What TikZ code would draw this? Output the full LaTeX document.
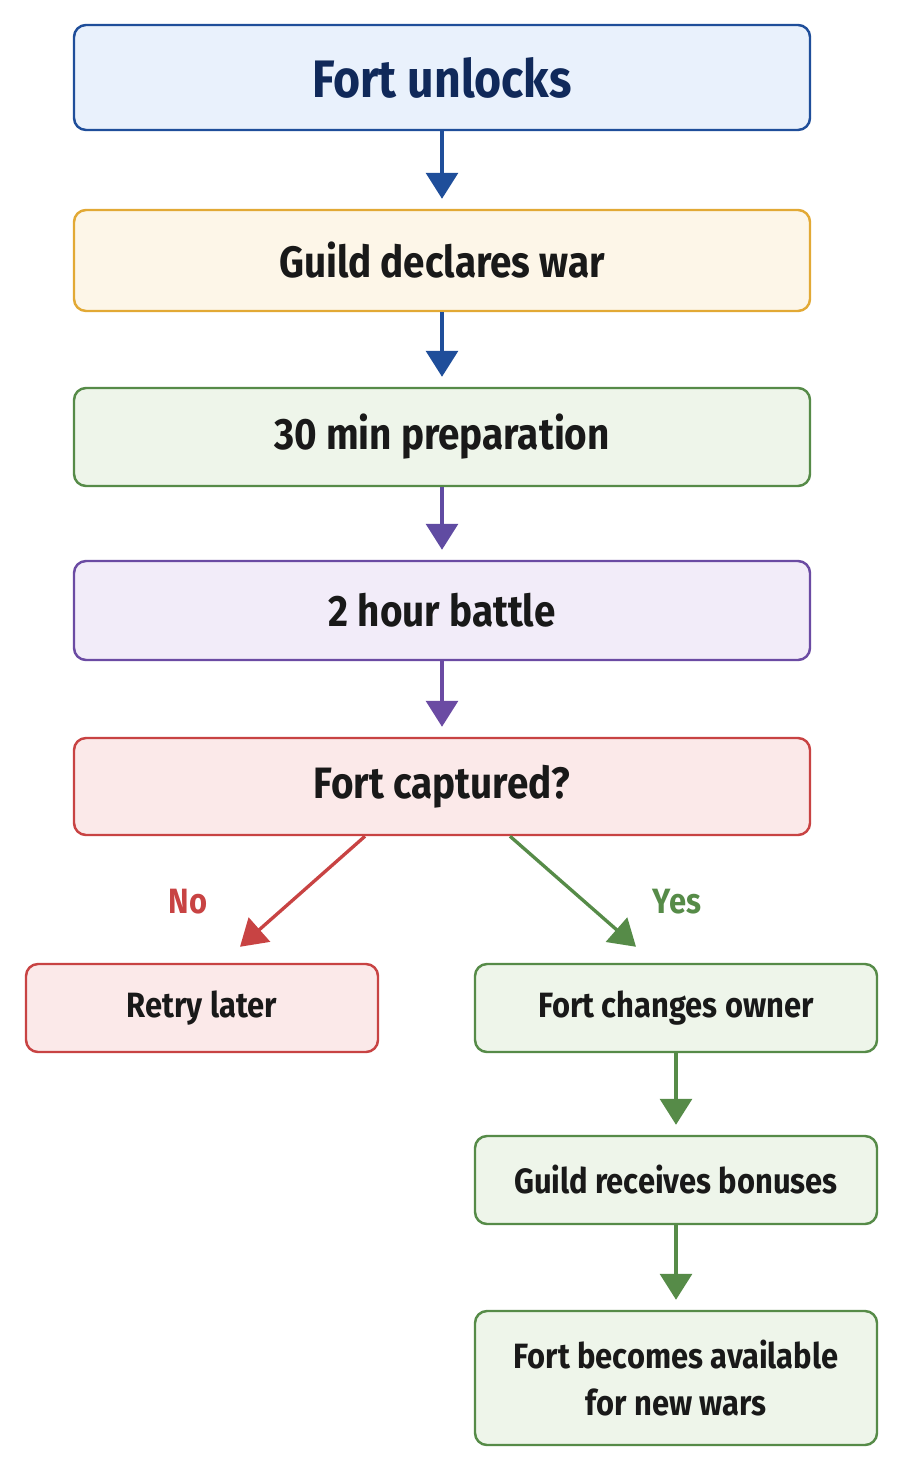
\documentclass[tikz,border=0pt]{standalone}
\usepackage{fontspec}
\setmainfont{Fira Sans}[FakeStretch=0.88]
\usetikzlibrary{arrows.meta}

\definecolor{bluedraw}{HTML}{1F4E9A}
\definecolor{bluefill}{HTML}{E9F1FC}
\definecolor{bluetext}{HTML}{10295A}
\definecolor{orangedraw}{HTML}{E2A935}
\definecolor{orangefill}{HTML}{FDF6E8}
\definecolor{greendraw}{HTML}{568B48}
\definecolor{greenfill}{HTML}{EEF5EA}
\definecolor{purpledraw}{HTML}{6B4BA3}
\definecolor{purplefill}{HTML}{F2ECF9}
\definecolor{reddraw}{HTML}{C84343}
\definecolor{redfill}{HTML}{FBE9E9}

\tikzset{
	stage/.style={draw, rounded corners=0.24cm, line width=1.4pt,
		minimum width=14.72cm, text=black!90,
		font=\bfseries\fontsize{25}{30}\selectfont},
	result/.style={draw, rounded corners=0.24cm, line width=1.4pt,
		minimum height=1.76cm, align=center, text=black!90,
		font=\bfseries\fontsize{20}{27}\selectfont},
	flow/.style={-{Triangle[width=0.64cm, length=0.52cm]}, line width=1.9pt,
		shorten >=0.2cm},
}

\begin{document}
\begin{tikzpicture}
	\useasboundingbox (0,0) rectangle (18,-29.6);

	\node [stage, draw=bluedraw, fill=bluefill, minimum height=2.1cm,
		text=bluetext, font=\bfseries\fontsize{30}{34}\selectfont]
	(unlock) at (8.84,-1.55) {Fort unlocks};
	\node [stage, draw=orangedraw, fill=orangefill, minimum height=2.02cm]
	(declare) at (8.84,-5.21) {Guild declares war};
	\node [stage, draw=greendraw, fill=greenfill, minimum height=1.96cm]
	(prep) at (8.84,-8.74) {30 min preparation};
	\node [stage, draw=purpledraw, fill=purplefill, minimum height=1.98cm]
	(battle) at (8.84,-12.21) {2 hour battle};
	\node [stage, draw=reddraw, fill=redfill, minimum height=1.94cm]
	(cap) at (8.84,-15.73) {Fort captured?};

	\node [result, draw=reddraw, fill=redfill, minimum width=7.04cm]
	(retry) at (4.04,-20.16) {Retry later};
	\node [result, draw=greendraw, fill=greenfill, minimum width=8.04cm]
	(owner) at (13.52,-20.16) {Fort changes owner};
	\node [result, draw=greendraw, fill=greenfill, minimum width=8.04cm]
	(bonus) at (13.52,-23.6) {Guild receives bonuses};
	\node [result, draw=greendraw, fill=greenfill, minimum width=8.04cm,
		minimum height=2.68cm]
	(avail) at (13.52,-27.56) {Fort becomes available\\for new wars};

	\draw [flow, bluedraw] (unlock) -- (declare);
	\draw [flow, bluedraw] (declare) -- (prep);
	\draw [flow, purpledraw!85!bluedraw] (prep) -- (battle);
	\draw [flow, purpledraw] (battle) -- (cap);

	% branches out of the decision
	\draw [flow, reddraw, shorten >=0pt] ([xshift=-1.54cm]cap.south)
		-- ([xshift=0.76cm, yshift=0.32cm]retry.north);
	\draw [flow, greendraw, shorten >=0pt] ([xshift=1.36cm]cap.south)
		-- ([xshift=-0.8cm, yshift=0.32cm]owner.north);
	\node [text=reddraw, font=\bfseries\fontsize{20}{24}\selectfont]
	(no) at (3.76,-18.04) {No};
	\node [text=greendraw, font=\bfseries\fontsize{20}{24}\selectfont]
	(yes) at (13.54,-18.04) {Yes};

	\draw [flow, greendraw] (owner) -- (bonus);
	\draw [flow, greendraw] (bonus) -- (avail);
\end{tikzpicture}
\end{document}
